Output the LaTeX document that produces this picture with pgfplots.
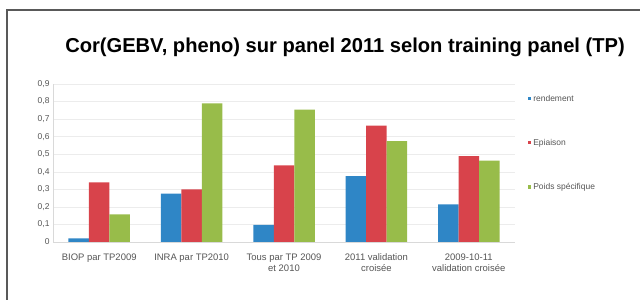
\documentclass[border=0pt]{standalone}
\usepackage{pgfplots}
\pgfplotsset{compat=1.18}
\usepackage{fontspec}
\setmainfont{Liberation Sans}
\definecolor{cblue}{HTML}{2F86C6}
\definecolor{cred}{HTML}{D8434B}
\definecolor{cgreen}{HTML}{98BC4A}
\definecolor{tgray}{HTML}{555555}
\begin{document}
\begin{tikzpicture}
\path[use as bounding box] (0,0) rectangle (640bp,300bp);
\begin{axis}[
  at={(53bp,58bp)}, anchor=south west,
  scale only axis, width=462bp, height=158bp,
  ybar=0pt, bar width=20.5bp,
  ymin=0, ymax=0.9,
  xmin=-0.5, xmax=4.5,
  xtick={0,1,2,3,4},
  xticklabels={BIOP par TP2009, INRA par TP2010, Tous par TP 2009\\et 2010, 2011 validation\\crois\'ee, 2009-10-11\\validation crois\'ee},
  xticklabel style={align=center, font=\fontsize{9.5}{11}\selectfont, text=tgray, yshift=-4bp},
  ytick={0,0.1,0.2,0.3,0.4,0.5,0.6,0.7,0.8,0.9},
  yticklabel style={font=\fontsize{8.5}{9}\selectfont, text=tgray, /pgf/number format/fixed, /pgf/number format/precision=1, /pgf/number format/use comma},
  /pgf/number format/assume math mode=true,
  ymajorgrids, grid style={gray!15},
  axis x line*=bottom, axis y line*=left,
  axis line style={gray!30},
  tick style={draw=none},
  enlarge x limits=false,
  legend style={at={(axis description cs:1.028,0.945)}, anchor=north west, draw=none, fill=none, font=\fontsize{8.5}{9}\selectfont, text=tgray, row sep=32.5bp, inner sep=0pt},
  legend cell align=left,
  legend image code/.code={\fill[#1] (0bp,-1.6bp) rectangle (3.2bp,1.6bp);},
]
\addplot[fill=cblue, draw=none] coordinates {(0,0.02) (1,0.275) (2,0.097) (3,0.375) (4,0.214)};
\addplot[fill=cred, draw=none] coordinates {(0,0.34) (1,0.30) (2,0.436) (3,0.663) (4,0.489)};
\addplot[fill=cgreen, draw=none] coordinates {(0,0.157) (1,0.79) (2,0.754) (3,0.574) (4,0.464)};
\legend{rendement, Epiaison, Poids sp\'ecifique}
\end{axis}
\node[font=\fontsize{20.2}{22}\selectfont\bfseries] at (345bp,253bp) {Cor(GEBV, pheno) sur panel 2011 selon training panel (TP)};
\draw[gray!70!black, line width=1.2bp] (7bp,0bp) -- (7bp,290bp) -- (640bp,290bp);
\end{tikzpicture}
\end{document}
